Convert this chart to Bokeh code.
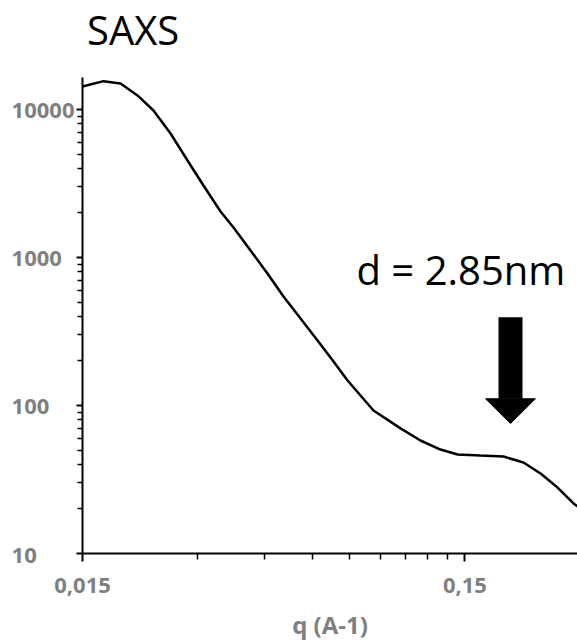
from bokeh.plotting import figure
from bokeh.models import FixedTicker, Label, Range1d, Div
from bokeh.layouts import column
from bokeh.embed import file_html
from bokeh.resources import INLINE

# ---- data ----
q = [0.015, 0.01703, 0.01886, 0.02089, 0.02300, 0.02549, 0.02823, 0.03108,
     0.03444, 0.03724, 0.04569, 0.05031, 0.05576, 0.06176, 0.0680, 0.0740,
     0.0865, 0.1018, 0.1148, 0.1295, 0.1435, 0.1647, 0.1893, 0.2134,
     0.2366, 0.2621, 0.2885, 0.3009]
intensity = [14290, 15530, 14990, 12440, 9840, 6880, 4520, 3065,
             2045, 1595, 780, 545, 387, 275, 198, 147.5,
             92.5, 70, 58, 50.4, 46.7, 45.9, 45.2, 41.2,
             34.7, 27.9, 21.8, 20.1]

x_ticks = [0.015, 0.15]
x_tick_labels = ["0,015", "0,15"]
x_minor = [0.03, 0.045, 0.06, 0.075, 0.09, 0.105, 0.12, 0.135]
y_ticks = [10, 100, 1000, 10000]
y_tick_labels = ["10", "100", "1000", "10000"]
y_minor = [m * 10 ** e for e in (1, 2, 3) for m in range(2, 10)]

x_start, x_end = 0.015, 0.2955
y_start, y_end = 10, 16440

title_text = "SAXS"
x_title = "q (A-1)"
annot_text = "d = 2.85nm"
annot_q, annot_I = 0.0781, 830
arrow_q, arrow_top, head_base, arrow_tip = 0.1974, 394, 111, 75.5
head_half = 1.162  # multiplicative half-width of the arrow head on log x

GREY = "#7f7f7f"
FONT = "Open Sans"
FIGSP = "\u2007"  # figure space: pads labels so they line up on the left

title_div = Div(
    text=('<div style="padding:10px 0 0 87px;font-family:\'Open Sans\';'
          'font-size:40px;line-height:40px;color:black;white-space:nowrap">'
          + title_text + '</div>'),
    width=577, height=50, margin=0)

p = figure(width=577, height=594, x_axis_type="log", y_axis_type="log",
           x_range=Range1d(x_start, x_end), y_range=Range1d(y_start, y_end),
           output_backend="svg", toolbar_location=None,
           min_border_left=82, min_border_right=0, min_border_top=27,
           min_border_bottom=91)
p.xgrid.visible = False
p.ygrid.visible = False
p.outline_line_color = None
p.background_fill_color = "white"
p.border_fill_color = "white"

# axes
p.xaxis.ticker = FixedTicker(ticks=x_ticks, minor_ticks=x_minor)
p.yaxis.ticker = FixedTicker(ticks=y_ticks, minor_ticks=y_minor)
for ax, maj, mnr in ((p.xaxis, 8, 6), (p.yaxis, 6, 5)):
    ax.axis_line_color = "black"
    ax.axis_line_width = 2
    ax.major_tick_line_color = "black"
    ax.minor_tick_line_color = "black"
    ax.major_tick_line_width = 2
    ax.minor_tick_line_width = 1.5
    ax.major_tick_in = 0
    ax.minor_tick_in = 0
    ax.major_tick_out = maj
    ax.minor_tick_out = mnr
    ax.major_label_text_font = FONT
    ax.major_label_text_font_style = "bold"
    ax.major_label_text_font_size = "22px"
    ax.major_label_text_color = GREY

width_max = max(len(t) for t in y_tick_labels)
p.yaxis.major_label_overrides = {v: t + FIGSP * (width_max - len(t))
                                 for v, t in zip(y_ticks, y_tick_labels)}
p.yaxis.major_label_standoff = 2
p.xaxis.major_label_overrides = dict(zip(x_ticks, x_tick_labels))
p.xaxis.major_label_standoff = 16
p.xaxis.axis_label = x_title
p.xaxis.axis_label_text_font = FONT
p.xaxis.axis_label_text_font_style = "bold"
p.xaxis.axis_label_text_font_size = "24px"
p.xaxis.axis_label_text_color = GREY
p.xaxis.axis_label_standoff = 12

# curve
p.line(q, intensity, line_color="black", line_width=2.5)

# arrow
p.segment(x0=[arrow_q], y0=[arrow_top], x1=[arrow_q], y1=[head_base],
          line_color="black", line_width=24, line_cap="butt")
p.patch(x=[arrow_q / head_half, arrow_q * head_half, arrow_q],
        y=[head_base, head_base, arrow_tip], fill_color="black",
        line_color="black", line_width=1)

# annotation
p.add_layout(Label(x=annot_q, y=annot_I, text=annot_text, text_align="left",
                   text_baseline="alphabetic", text_font=FONT,
                   text_font_size="40px", text_color="black"))

layout = column(title_div, p, spacing=0)
open("out.html", "w").write(file_html(layout, INLINE))
